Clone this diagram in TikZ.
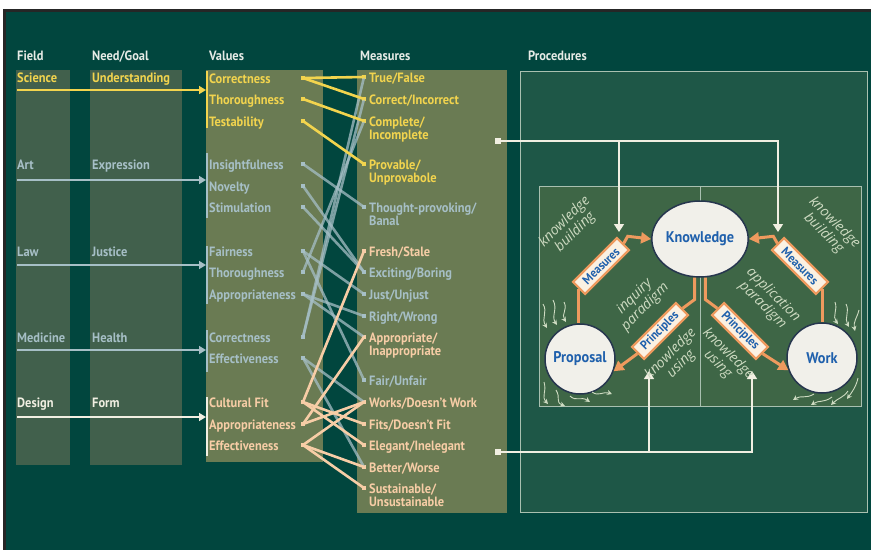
\documentclass[tikz,border=0pt]{standalone}
\usepackage{fontspec}
\setmainfont{PT Sans}[FakeStretch=0.92]
\newfontfamily\handfont{Open Sans}
\usetikzlibrary{arrows.meta,calc,shapes.geometric}

\definecolor{bgdark}{HTML}{01463E}
\definecolor{colpanel}{HTML}{41604C}
\definecolor{valpanel}{HTML}{6A7B53}
\definecolor{procfill}{HTML}{1E5747}
\definecolor{innerfill}{HTML}{3E6646}
\definecolor{framec}{HTML}{A9C0B0}
\definecolor{yel}{HTML}{F2D44E}
\definecolor{blu}{HTML}{A6BFC6}
\definecolor{pch}{HTML}{F7CDA6}
\definecolor{crm}{HTML}{F1EFE2}
\definecolor{hdrc}{HTML}{E6EBE6}
\definecolor{orng}{HTML}{EE9A5E}
\definecolor{kblue}{HTML}{1F60AC}
\definecolor{circfill}{HTML}{F1F0EA}
\definecolor{circline}{HTML}{26364E}
\definecolor{handc}{HTML}{CEDBC2}
\definecolor{boxfill}{HTML}{FBF1E2}

\newcommand\twoline[2]{\begin{tabular}[t]{@{}l@{}}#1\\[-1pt]#2\end{tabular}}

\tikzset{
  hdr/.style={anchor=base west, inner sep=0, text=hdrc, font=\bfseries\fontsize{13.5}{14}\selectfont},
  lab/.style={anchor=base west, inner sep=0, text=#1, font=\bfseries\fontsize{13.5}{14}\selectfont},
  dot/.style={rectangle, fill=#1, minimum size=4.5, inner sep=0},
  link/.style={line width=2.6, draw=#1, line cap=round},
  bluelink/.style={line width=2.6, draw=blu, draw opacity=0.75},
  feed/.style={line width=1.6, draw=#1, -{Triangle[length=7,width=8]}},
  bar/.style={line width=2, draw=#1},
  warrow/.style={line width=1.6, draw=crm, -{Triangle[length=8,width=10]}},
  wsq/.style={rectangle, fill=crm, minimum size=6, inner sep=0},
  obox/.style={draw=orng, line width=2.2, fill=boxfill, text=kblue,
    font=\bfseries\fontsize{12.5}{12.5}\selectfont, minimum width=62, minimum height=17, inner sep=1.5},
  opath/.style={draw=orng, line width=3},
  oarrow/.style={draw=orng, line width=3, -{Triangle[length=10,width=11]}},
  bigc/.style={circle, draw=circline, line width=1.5, fill=circfill, text=kblue,
    font=\bfseries\fontsize{15.5}{15.5}\selectfont, inner sep=0},
  hand/.style={text=handc, align=center, inner sep=0,
    font=\handfont\itshape\fontsize{14}{12.5}\selectfont},
  squig/.style={draw=handc, line width=0.9, -{Stealth[length=5,width=5]}},
}

\begin{document}
\begin{tikzpicture}[x=1pt,y=-1pt]
\useasboundingbox (0,0) rectangle (871,550);

% page background and frame
\fill[white] (0,0) rectangle (871,550);
\fill[black!85] (3,9) rectangle (871,550);
\fill[bgdark] (6,12) rectangle (871,550);

% column panels
\fill[colpanel] (16,70) rectangle (70,465);
\fill[colpanel] (90,70) rectangle (182,465);
\fill[valpanel] (206,70) rectangle (323,462);
\fill[valpanel] (357,70) rectangle (507,513);

% headings
\node[hdr] (hField) at (17,60.5) {Field};
\node[hdr] (hNeed) at (92,60.5) {Need/Goal};
\node[hdr] (hVal) at (209,60.5) {Values};
\node[hdr] (hMeas) at (360,60.5) {Measures};
\node[hdr] (hProc) at (528,60.5) {Procedures};

% fields and needs
\node[lab=yel] (fSci) at (17,82) {Science};
\node[lab=yel] (nSci) at (92,82) {Understanding};
\node[lab=blu] (fArt) at (17,169) {Art};
\node[lab=blu] (nArt) at (92,169) {Expression};
\node[lab=blu] (fLaw) at (17,256) {Law};
\node[lab=blu] (nLaw) at (92,256) {Justice};
\node[lab=blu] (fMed) at (17,342) {Medicine};
\node[lab=blu] (nMed) at (92,342) {Health};
\node[lab=crm] (fDes) at (17,407) {Design};
\node[lab=crm] (nDes) at (92,407) {Form};

% feed arrows into the value groups
\coordinate (sSci) at (17,90);  \coordinate (eSci) at (206,90);
\coordinate (sArt) at (17,180); \coordinate (eArt) at (206,180);
\coordinate (sLaw) at (17,265); \coordinate (eLaw) at (206,265);
\coordinate (sMed) at (17,350); \coordinate (eMed) at (206,350);
\coordinate (sDes) at (17,417); \coordinate (eDes) at (206,417);
\draw[feed=yel] (sSci) -- (eSci);
\draw[feed=blu] (sArt) -- (eArt);
\draw[feed=blu] (sLaw) -- (eLaw);
\draw[feed=blu] (sMed) -- (eMed);
\draw[feed=crm] (sDes) -- (eDes);

% group bars
\draw[bar=yel] (207,71) -- (207,128);
\draw[bar=blu] (207,153) -- (207,218);
\draw[bar=blu] (207,246) -- (207,304);
\draw[bar=blu] (207,330) -- (207,372);
\draw[bar=crm] (207,397) -- (207,456);

% values
\node[lab=yel] (vSciCor) at (209,83) {Correctness};
\node[lab=yel] (vSciTho) at (209,104) {Thoroughness};
\node[lab=yel] (vSciTes) at (209,126) {Testability};
\node[lab=blu] (vArtIns) at (209,169) {Insightfulness};
\node[lab=blu] (vArtNov) at (209,191) {Novelty};
\node[lab=blu] (vArtSti) at (209,212) {Stimulation};
\node[lab=blu] (vLawFai) at (209,256) {Fairness};
\node[lab=blu] (vLawTho) at (209,277) {Thoroughness};
\node[lab=blu] (vLawApp) at (209,299) {Appropriateness};
\node[lab=blu] (vMedCor) at (209,342) {Correctness};
\node[lab=blu] (vMedEff) at (209,363) {Effectiveness};
\node[lab=pch] (vDesCul) at (209,407) {Cultural Fit};
\node[lab=pch] (vDesApp) at (209,429) {Appropriateness};
\node[lab=pch] (vDesEff) at (209,450) {Effectiveness};

% measures
\node[lab=yel] (mTrue) at (369,82) {True/False};
\node[lab=yel] (mCorr) at (369,104) {Correct/Incorrect};
\node[lab=yel] (mComp) at (369,126) {\twoline{Complete/}{Incomplete}};
\node[lab=yel] (mProv) at (369,169) {\twoline{Provable/}{Unprovabole}};
\node[lab=blu] (mThou) at (369,212) {\twoline{Thought-provoking/}{Banal}};
\node[lab=pch] (mFres) at (369,256) {Fresh/Stale};
\node[lab=blu] (mExci) at (369,277) {Exciting/Boring};
\node[lab=blu] (mJust) at (369,299) {Just/Unjust};
\node[lab=blu] (mRigh) at (369,321) {Right/Wrong};
\node[lab=pch] (mAppr) at (369,342) {\twoline{Appropriate/}{Inappropriate}};
\node[lab=blu] (mFair) at (369,385) {Fair/Unfair};
\node[lab=pch] (mWork) at (369,407) {Works/Doesn't Work};
\node[lab=pch] (mFits) at (369,429) {Fits/Doesn't Fit};
\node[lab=pch] (mEleg) at (369,450) {Elegant/Inelegant};
\node[lab=pch] (mBett) at (369,472) {Better/Worse};
\node[lab=pch] (mSust) at (369,493) {\twoline{Sustainable/}{Unsustainable}};

% connector end points, value side
\node[dot=yel] (dSciCor) at (303,78) {};
\node[dot=yel] (dSciTho) at (303,99) {};
\node[dot=yel] (dSciTes) at (303,121) {};
\node[dot=blu] (dArtIns) at (303,164) {};
\node[dot=blu] (dArtNov) at (303,186) {};
\node[dot=blu] (dArtSti) at (303,207) {};
\node[dot=blu] (dLawFai) at (303,251) {};
\node[dot=blu] (dLawTho) at (303,272) {};
\node[dot=blu] (dLawApp) at (303,294) {};
\node[dot=blu] (dMedCor) at (303,337) {};
\node[dot=blu] (dMedEff) at (303,358) {};
\node[dot=pch] (dDesCul) at (303,402) {};
\node[dot=pch] (dDesApp) at (303,424) {};
\node[dot=pch] (dDesEff) at (303,445) {};

% connector end points, measure side
\node[dot=yel] (qTrue) at (364,77) {};
\node[dot=yel] (qCorr) at (364,99) {};
\node[dot=yel] (qComp) at (364,121) {};
\node[dot=yel] (qProv) at (364,164) {};
\node[dot=blu] (qThou) at (364,207) {};
\node[dot=pch] (qFres) at (364,251) {};
\node[dot=blu] (qExci) at (364,272) {};
\node[dot=blu] (qJust) at (364,294) {};
\node[dot=blu] (qRigh) at (364,316) {};
\node[dot=pch] (qAppr) at (364,337) {};
\node[dot=blu] (qFair) at (364,380) {};
\node[dot=pch] (qWork) at (364,402) {};
\node[dot=pch] (qFits) at (364,424) {};
\node[dot=pch] (qEleg) at (364,445) {};
\node[dot=pch] (qBett) at (364,467) {};
\node[dot=pch] (qSust) at (364,488) {};

% art, law and medicine links
\draw[bluelink] (dArtIns.center) -- (qThou.center);
\draw[bluelink] (dArtNov.center) -- (qExci.center);
\draw[bluelink] (dArtSti.center) -- (qExci.center);
\draw[bluelink] (dLawFai.center) -- (qJust.center);
\draw[bluelink] (dLawFai.center) -- (qFair.center);
\draw[bluelink] (dLawTho.center) -- (qComp.center);
\draw[bluelink] (dLawApp.center) -- (qRigh.center);
\draw[bluelink] (dLawApp.center) -- (qAppr.center);
\draw[bluelink] (dMedCor.center) -- (qTrue.center);
\draw[bluelink] (dMedCor.center) -- (qCorr.center);
\draw[bluelink] (dMedEff.center) -- (qWork.center);
\draw[bluelink] (dMedEff.center) -- (qBett.center);

% science links
\draw[link=yel] (dSciCor.center) -- (qTrue.center);
\draw[link=yel] (dSciCor.center) -- (qCorr.center);
\draw[link=yel] (dSciTho.center) -- (qComp.center);
\draw[link=yel] (dSciTes.center) -- (qProv.center);

% design links
\draw[link=pch] (dDesCul.center) -- (qFres.center);
\draw[link=pch] (dDesCul.center) -- (qFits.center);
\draw[link=pch] (dDesCul.center) -- (qEleg.center);
\draw[link=pch] (dDesApp.center) -- (qAppr.center);
\draw[link=pch] (dDesApp.center) -- (qWork.center);
\draw[link=pch] (dDesEff.center) -- (qWork.center);
\draw[link=pch] (dDesEff.center) -- (qBett.center);
\draw[link=pch] (dDesEff.center) -- (qSust.center);

% procedures frame
\draw[fill=procfill, draw=framec, line width=1] (520,71) rectangle (867,512);
\draw[fill=innerfill, draw=framec, line width=0.8] (539,186) rectangle (861,406);
\draw[draw=framec, line width=0.8] (700,186) -- (700,406);

% measures and principles feeding the procedures
\node[wsq] (sqT) at (498,141) {};
\coordinate (jT1) at (619,141);
\coordinate (jT2) at (778,141);
\coordinate (tipT1) at (619,232);
\coordinate (tipT2) at (778,232);
\draw[warrow] (sqT.center) -- (jT2) -- (tipT2);
\draw[warrow] (jT1) -- (tipT1);

\node[wsq] (sqB) at (498,452) {};
\coordinate (jB1) at (649,452);
\coordinate (jB2) at (752,452);
\coordinate (tipB1) at (649,371);
\coordinate (tipB2) at (752,371);
\draw[warrow] (sqB.center) -- (jB2) -- (tipB2);
\draw[warrow] (jB1) -- (tipB1);

% the three states
\node[bigc, ellipse, minimum width=88, minimum height=76] (K) at (700,239) {Knowledge};
\node[bigc, minimum size=70] (P) at (580,359) {Proposal};
\node[bigc, minimum size=70] (W) at (822,358) {Work};

% measure and principle boxes
\node[obox, rotate=45] (ML) at (601,266) {Measures};
\node[obox, rotate=45] (PL) at (660,331) {Principles};
\node[obox, rotate=-45] (MR) at (800,266) {Measures};
\node[obox, rotate=-45] (PR) at (740,331) {Principles};

% inquiry cycle
\draw[opath] (ML.west) -- (ML.west |- P.north);
\draw[oarrow] (ML.east) -- ++(4,-7) -- (K.west);
\draw[opath] (K.-98) -- ++(0,22) -- (PL.east);
\draw[oarrow] (PL.west) -- (P.-20);

% application cycle
\draw[opath] (MR.east) -- (MR.east |- W.north);
\draw[oarrow] (MR.west) -- ++(-4,-7) -- (K.east);
\draw[opath] (K.-82) -- ++(0,22) -- (PR.west);
\draw[oarrow] (PR.east) -- (W.200);

% handwritten annotations
\node[hand, rotate=45] (hbL) at (570,227) {knowledge\\building};
\node[hand, rotate=45] (hiL) at (640,302) {inquiry\\paradigm};
\node[hand, rotate=45] (huL) at (676,359) {knowledge\\using};
\node[hand, rotate=-45] (hbR) at (829,228) {knowledge\\building};
\node[hand, rotate=-45] (haR) at (768,300) {application\\paradigm};
\node[hand, rotate=-45] (huR) at (723,359) {knowledge\\using};

% little flow marks around Proposal and Work
\draw[squig] (543,304) .. controls (548,312) and (541,318) .. (547,328);
\draw[squig] (553,300) .. controls (558,309) and (551,316) .. (557,325);
\draw[squig] (564,302) .. controls (568,310) and (561,314) .. (566,322);
\draw[squig] (544,382) .. controls (547,392) and (541,396) .. (548,404);
\draw[squig] (556,390) .. controls (561,398) and (555,402) .. (565,406);
\draw[squig] (570,396) .. controls (576,402) and (581,396) .. (590,402);
\draw[squig] (592,392) .. controls (599,397) and (603,391) .. (612,394);
\draw[squig] (835,302) .. controls (838,310) and (832,316) .. (838,324);
\draw[squig] (846,304) .. controls (850,312) and (844,318) .. (849,327);
\draw[squig] (859,310) .. controls (857,318) and (853,322) .. (855,331);
\draw[squig] (814,394) .. controls (806,399) and (801,395) .. (793,400);
\draw[squig] (832,397) .. controls (824,403) and (819,400) .. (811,405);
\draw[squig] (848,391) .. controls (843,398) and (838,398) .. (831,405);
\draw[squig] (858,378) .. controls (856,387) and (852,392) .. (847,399);
\end{tikzpicture}
\end{document}
